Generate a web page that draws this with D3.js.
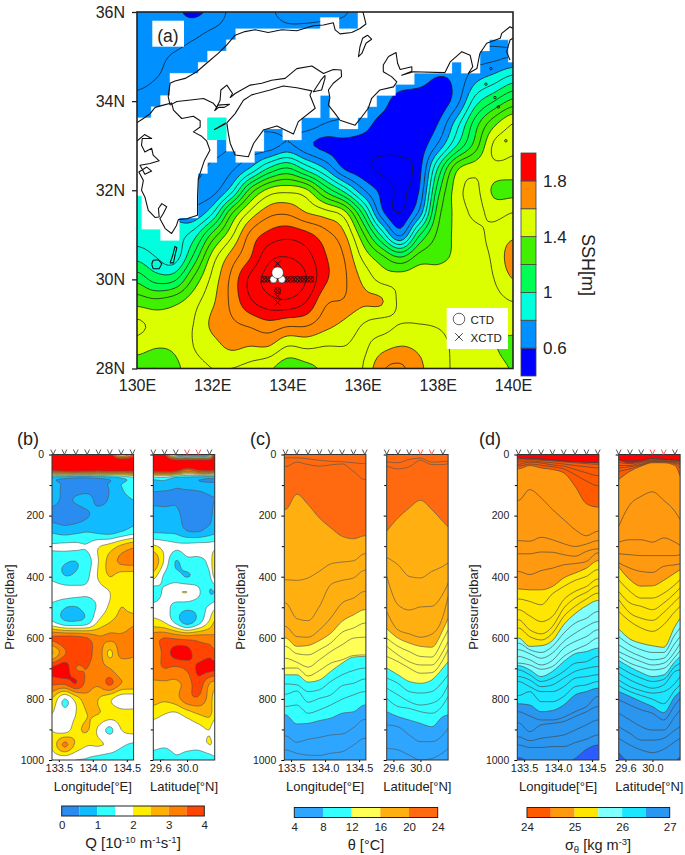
<!DOCTYPE html>
<html><head><meta charset="utf-8">
<script src="https://cdn.jsdelivr.net/npm/d3@7"></script>
<style>html,body{margin:0;background:#fff}svg{display:block}text{font-family:"Liberation Sans",Arial,sans-serif;fill:#222}</style>
</head><body><svg id="c" width="685" height="855"></svg>
<script>
// ---------- panel (a): sea surface height ----------
const sshLons = d3.range(21).map(i => 130 + i * 0.5);
const sshLats = d3.range(17).map(i => 36 - i * 0.5);
const sshValues = [
[.66,.64,.62,.58,.63,.72,.74,.72,.66,.66,.67,.69,.74,.75,.75,.75,.75,.75,.75,.75,.75],
[.67,.65,.65,.68,.72,.74,.75,.75,.74,.74,.75,.75,.75,.75,.75,.75,.75,.75,.75,.75,.75],
[.66,.68,.71,.74,.75,.75,.75,.75,.75,.75,.75,.75,.75,.75,.75,.75,.72,.66,.67,.68,.70],
[.68,.70,.72,.74,.75,.75,.75,.75,.75,.75,.75,.75,.75,.73,.70,.66,.59,.63,.77,.85,.95],
[.72,.73,.74,.75,.75,.75,.75,.75,.75,.75,.75,.74,.73,.66,.53,.52,.53,.66,.95,1.1,1.23],
[.75,.75,.75,.75,.75,.75,.75,.75,.75,.75,.70,.68,.65,.56,.53,.52,.60,.85,1.15,1.37,1.5],
[.75,.75,.75,.75,.75,.70,.66,.65,.72,.63,.57,.57,.55,.53,.53,.54,.72,1.0,1.25,1.52,1.52],
[.78,.78,.77,.75,.68,.68,.80,1.0,1.1,.95,.79,.59,.53,.48,.47,.56,1.0,1.37,1.46,1.47,1.46],
[.85,.82,.78,.70,.66,.85,1.23,1.43,1.47,1.42,1.18,.97,.72,.57,.49,.60,1.15,1.45,1.52,1.38,1.37],
[.85,.82,.78,.72,.88,1.27,1.52,1.66,1.68,1.6,1.54,1.44,1.08,.64,.50,.72,1.25,1.43,1.52,1.47,1.5],
[.85,.85,.85,.95,1.23,1.47,1.72,1.83,1.87,1.83,1.74,1.62,1.33,.98,.68,1.08,1.32,1.42,1.47,1.53,1.58],
[.97,.90,.85,1.12,1.44,1.64,1.79,1.97,2.0,1.94,1.81,1.70,1.48,1.33,1.20,1.34,1.37,1.42,1.46,1.52,1.66],
[1.17,1.06,1.08,1.32,1.53,1.72,1.92,2.04,2.1,2.0,1.82,1.72,1.58,1.47,1.46,1.47,1.46,1.46,1.46,1.5,1.6],
[1.36,1.33,1.37,1.46,1.58,1.72,1.88,1.96,1.98,1.9,1.72,1.69,1.62,1.61,1.48,1.48,1.47,1.46,1.46,1.47,1.5],
[1.52,1.47,1.46,1.5,1.62,1.68,1.72,1.77,1.73,1.72,1.64,1.58,1.5,1.47,1.5,1.5,1.49,1.46,1.46,1.44,1.46],
[1.45,1.41,1.42,1.5,1.56,1.62,1.6,1.6,1.5,1.52,1.5,1.5,1.48,1.56,1.6,1.58,1.55,1.47,1.46,1.41,1.35],
[1.33,1.3,1.37,1.46,1.5,1.5,1.47,1.42,1.34,1.37,1.42,1.46,1.5,1.68,1.72,1.62,1.55,1.48,1.47,1.45,1.39]];
const sshBreaks = [0.6,0.8,1.0,1.2,1.4,1.6,1.8];
const sshColors = ["#0000ff","#0090ff","#00ffdd","#00ff55","#40f000","#dcff00","#ff8c00","#ff0000"];
const sshLines = d3.range(5,22).map(d => d / 10);
const sshTickLabels = [0.6,1,1.4,1.8];
// 0.25-degree land mask, 41 x 33 cells; # land, c inland-sea cell
const landMask = [
"........................#################",
"....................##..#################",
"...........##############################",
"..........############################..#",
"........#############################...#",
".......###########################.##....",
"....##########################...........",
"....########################.............",
"...#################.#####...............",
"..##################.####................",
"########cc########....##.................",
"########cc####..##.......................",
"#########.####...........................",
"#########..##............................",
"########.................................",
"#######..................................",
"#######..................................",
".######..................................",
".######..................................",
".####....................................",
"...##...................................."];
const coastHonshuN = [[130.88,33.91],[130.83,34.10],[130.88,34.40],[131.01,34.45],[131.28,34.51],[131.59,34.66],[131.85,34.85],[132.16,35.07],[132.39,35.26],[132.61,35.48],[132.87,35.56],[133.14,35.60],[133.49,35.54],[133.85,35.60],[134.25,35.58],[134.69,35.69],[134.96,35.71],[135.22,35.76],[135.27,35.60],[135.40,35.51],[135.71,35.54],[135.93,35.63],[136.09,35.73],[136.02,35.97],[135.98,36.03]];
const coastHonshuS = [[130.88,33.91],[131.06,33.99],[131.37,34.02],[131.77,34.06],[132.03,33.95],[132.12,33.86],[132.21,34.02],[132.23,34.25],[132.39,34.36],[132.54,34.17],[132.48,34.08],[132.61,34.17],[133.01,34.36],[133.32,34.40],[133.58,34.47],[133.94,34.51],[134.25,34.73],[134.65,34.79],[134.96,34.62],[135.22,34.71],[135.43,34.70],[135.44,34.55],[135.22,34.40],[135.09,34.25],[135.13,34.08],[135.09,33.91],[135.27,33.72],[135.40,33.57],[135.80,33.46],[135.98,33.65],[136.15,33.84],[136.24,34.06],[136.46,34.25],[136.82,34.32],[136.91,34.43],[136.77,34.55],[136.55,34.66],[136.55,34.81],[136.69,35.00],[136.89,35.09],[136.93,34.85],[137.00,34.71],[137.31,34.77],[137.31,34.67],[137.04,34.58],[137.35,34.66],[138.19,34.64],[138.33,34.88],[138.64,35.11],[138.86,35.03],[138.93,34.77],[138.81,34.62],[139.04,34.73],[139.12,35.07],[139.30,35.30],[139.66,35.41],[139.70,35.52],[139.92,35.67],[140,35.63]];
const coastBoso = [[139.92,34.92],[139.83,35.11],[139.92,35.37],[140,35.41]];
const coastShikoku = [[132.39,33.51],[132.43,33.27],[132.48,33.05],[132.61,32.79],[132.96,32.75],[133.10,33.05],[133.36,33.35],[133.72,33.44],[134.16,33.26],[134.29,33.54],[134.74,33.84],[134.60,34.13],[134.65,34.23],[134.25,34.30],[133.89,34.34],[133.54,34.25],[133.05,34.14],[132.83,34.02],[132.61,33.72],[132.39,33.51]];
const coastKyushu = [[129.99,33.51],[130.17,33.61],[130.35,33.72],[130.48,33.86],[130.70,33.91],[130.92,33.96],[130.97,33.80],[131.19,33.61],[131.50,33.66],[131.68,33.56],[131.68,33.42],[131.50,33.31],[131.72,33.21],[131.85,33.11],[131.94,32.90],[131.79,32.66],[131.63,32.26],[131.61,31.85],[131.61,31.44],[131.32,31.36],[131.10,31.34],[131.05,31.21],[130.92,31.03],[130.75,31.14],[130.61,31.36],[130.70,31.48],[130.79,31.63],[130.66,31.70],[130.57,31.59],[130.59,31.40],[130.48,31.39],[130.30,31.55],[130.21,31.85],[130.12,32.00],[130.17,32.22],[130.05,32.41],[130.26,32.52],[130.39,32.43],[130.21,32.36],[130.08,32.56],[130.35,32.60],[130.59,32.66],[130.43,32.79],[130.39,32.94],[130.21,32.86],[130.12,33.01],[130.14,33.16],[130.39,33.16],[130.20,33.25],[129.99,33.10]];
const islandList = [
[[130.88,30.37],[130.95,30.54],[131.01,30.74],[131.06,30.71],[131.01,30.54],[130.97,30.37],[130.88,30.37]],
[[130.39,30.34],[130.43,30.43],[130.57,30.44],[130.66,30.35],[130.59,30.24],[130.43,30.24],[130.39,30.34]],
[[132.06,33.78],[132.15,33.91],[132.46,33.93],[132.32,33.86],[132.17,33.86],[132.06,33.78]],
[[136.13,35.48],[136.24,35.39],[136.09,35.30],[135.98,35.07],[135.89,35.00],[135.93,35.22],[136.00,35.41],[136.13,35.48]],
[[135.00,34.58],[134.89,34.47],[134.69,34.21],[134.91,34.25],[135.00,34.51],[135.00,34.58]],
[[132.05,33.36],[132.36,33.51],[132.33,33.48],[132.05,33.36]]];
const tinyIslands = [[139.41,34.73],[139.52,34.08],[139.28,34.38],[139.61,33.87],[139.81,33.11]];
const rowLons = [133.38,133.557,133.734,133.911,134.088,134.265,134.442,134.62];
const rowLat = 30;
const colLon = 133.74;
const colLats = [30.35,30.15,29.75,29.62,29.48];
const whiteCTD = [[133.63,30,3.6],[133.85,30,3.6],[133.74,30.15,5.8]];
const openCTD = [[133.38,30],[133.557,30],[133.911,30],[134.088,30],[134.265,30],[134.442,30],[134.62,30],[133.74,29.75]];

// ---------- section coordinates ----------
const secLon = [133.417,133.583,133.75,133.917,134.083,134.25,134.417,134.583];
const secLat = [29.5,29.667,29.833,30,30.167,30.333,30.41];
const markLat = [29.5,29.667,29.833,30,30.167,30.333];
const markLatRed = [false,false,false,true,true,false];
const lonTicks = [133.5,134,134.5];
const latTicks = [29.6,30];
const presMajor = [0,200,400,600,800,1000];
const presMinor = [100,300,500,700,900];

// ---------- panel (b): Q ----------
const qDepth = [0,25,50,75,100,150,200,250,300,350,400,450,500,550,600,650,700,750,800,850,900,950,1000];
const qLon = [
[4.5,4.5,4.5,4.5,4.5,4.4,2.5,3.5],
[5,5,5,5,5,5,5,5],
[4.2,4.5,4.6,4.5,4.4,4.5,4.4,4.4],
[.8,.75,.6,.6,.7,.85,1.1,1.4],
[.8,.4,.3,.3,.4,.55,1.0,1.3],
[.7,.4,.55,.65,.4,.55,.85,1.0],
[.3,.2,.25,.45,.7,.75,.85,.95],
[.9,.75,.85,.95,.85,.75,.95,1.2],
[1.55,1.6,1.6,1.55,1.95,2.2,2.6,2.9],
[1.2,1.05,1.0,1.25,2.0,2.7,3.1,3.2],
[1.35,1.03,1.1,1.4,2.05,2.5,2.25,2.2],
[1.9,1.8,1.7,1.6,1.75,2.0,2.4,2.45],
[1.35,1.03,.98,1.2,1.6,2.1,2.5,2.3],
[1.6,1.15,1.1,1.3,2.1,2.5,2.7,2.9],
[3.6,3.7,3.7,3.5,3.1,3.1,3.1,3.2],
[2.4,3.4,3.9,3.6,3.3,2.4,3.2,3.1],
[4.1,4.3,3.5,3.5,3.2,3,2.6,2.7],
[3.6,3.6,4,3.3,3.1,3.6,3,2.9],
[2.5,1.5,2.2,2.8,2.5,2.1,1.7,1.7],
[2.0,1.7,2.0,2.5,2.5,2.3,2.2,2.2],
[2.0,1.7,2.3,2.55,1.9,1.4,2.0,2.2],
[2.1,3.1,2.4,2.05,2.05,1.9,1.6,1.4],
[1.7,1.6,1.5,1.45,1.3,1.15,1.1,1.0]];
const qLat = [
[4.5,4.2,.8,.6,.5,.8,4.5],
[5,5,5,5,5,5,5],
[4.5,4.6,4.5,3.5,4.1,4.3,4.1],
[1.4,1.5,1,.9,.8,.7,.7],
[.7,.7,.55,.6,.6,.6,.6],
[.4,.35,.45,.3,.35,.45,.5],
[.8,.8,.65,.3,.25,.35,.7],
[.9,.9,.85,.5,.45,.7,.85],
[2.1,1.8,1.6,1.65,1.7,1.7,1.8],
[3.0,1.9,.98,1.35,1.35,1.65,2.5],
[2.2,1.4,1.2,.98,1.2,1.4,2.2],
[1.2,1.6,1.9,2.0,1.6,1.0,1.0],
[1.7,1.7,1.3,1.15,1.2,1.6,1.9],
[2.2,2.0,1.4,.8,1.3,2.1,2.6],
[3.3,3.5,3.4,3.3,3.3,3.2,3.1],
[3.0,3.7,4.2,4.2,3.7,3.8,3.6],
[3.3,3.5,3.4,3.6,4.1,4.2,4.1],
[2.9,2.9,2.9,3.2,3.8,3.0,2.8],
[2.7,2.6,2.8,3.3,3.4,2.8,2.2],
[2.2,2.0,1.9,2.2,2.5,2.6,2.2],
[1.7,1.6,1.55,1.6,1.8,2.0,1.5],
[1.7,1.6,1.7,1.7,1.75,2.0,1.9],
[1.1,1.0,1.4,1.2,1.0,1.2,1.4]];
const qBreaks = [.5,1,1.5,2,2.5,3,3.5,4];
const qColors = ["#2a8cf0","#10bcff","#33ffff","#ffffff","#ffee00","#ffb000","#ff8000","#ff4500","#ff0000"];
const qBarTicks = [0,1,2,3,4];

// ---------- panel (c): isotherm depths (dbar) at each station ----------
const thetaLevels = [22,21,20,19,18,17,16,15,14,13,12,11,10,9,8,7,6];
const thetaLon = [
[11,11,14,19,22,24,27,30],[40,25,33,38,34,31,55,82],[180,130,164,208,240,268,276,266],[410,412,404,382,358,352,348,325],
[486,537,544,497,426,412,404,379],[563,596,598,574,535,486,470,448],[601,628,625,609,585,546,525,508],[628,652,656,639,617,582,568,552],
[667,680,696,672,645,623,601,598],[699,699,725,707,683,672,658,656],[721,721,745,738,710,683,663,661],[751,754,776,770,743,721,707,699],
[785,774,811,798,787,757,749,735],[825,820,847,836,820,801,787,776],[852,882,880,871,863,847,842,820],[921,942,932,926,918,915,894,867],[967,978,984,985,978,973,951,929]];
const thetaLat = [
[24,27,16,12,25,23,22],[38,47,40,19,33,33,30],[251,208,175,150,180,219,237],[337,361,399,404,383,366,355],
[399,492,509,499,497,456,421],[514,574,587,598,588,530,464],[570,601,617,628,631,574,536],[601,628,645,661,663,607,574],
[628,656,678,689,689,645,612],[661,678,699,716,714,672,639],[699,721,743,749,738,699,678],[732,749,776,781,776,743,721],
[765,787,809,820,814,787,754],[798,825,831,842,847,820,792],[842,858,869,880,891,858,852],[885,891,918,940,940,918,896],[962,967,984,1000,995,976,962]];
const thetaFills = [[20,"#ff6a10"],[16,"#ffb010"],[12,"#ffff55"],[8,"#33ffff"]];
const thetaBottom = "#2ea6ff";
const thetaBarBreaks = [4,8,12,16,20,24];
const thetaBarColors = ["#2ea6ff","#33ffff","#ffff55","#ffb010","#ff6a10"];

// ---------- panel (d): isopycnal depths (dbar) at each station ----------
const sigmaLevels = [23.9,24,24.1,24.2,24.3,24.4,24.5,24.6,24.7,24.8,24.9,25,25.1,25.2,25.3,25.4,25.5,25.6,25.7,25.8,25.9,26,26.1,26.2,26.3,26.4,26.5,26.6,26.7,26.8,26.9,27];
const sigmaLon = [
[12,12,14,17,21,23,25,26],[14,14,16,19,22,24,26,27],[19,16,19,21,24,27,30,32],[25,21,24,27,31,36,40,44],[32,25,28,34,38,49,60,69],[38,31,35,40,47,66,87,102],
[47,36,44,49,60,104,161,172],[150,115,142,180,213,246,266,251],[282,284,271,279,292,301,293,282],[325,325,319,320,328,333,317,309],[383,393,380,372,361,357,350,322],
[440,443,443,432,404,388,372,348],[473,481,492,456,432,412,399,377],[508,528,547,530,475,448,432,408],[541,574,587,563,503,470,451,430],[568,596,607,585,530,497,473,454],
[601,628,626,609,557,521,495,478],[618,639,648,628,585,552,536,514],[639,652,667,650,612,585,563,547],[661,672,689,674,634,612,596,574],[683,689,703,694,661,639,623,601],
[691,705,727,710,678,652,645,634],[705,721,743,732,710,683,678,661],[727,738,760,754,732,710,700,694],[743,760,776,776,760,732,727,721],[789,776,809,809,792,760,754,743],
[816,820,842,838,820,787,776,765],[842,856,869,869,860,842,825,792],[878,907,885,880,874,858,842,825],[924,937,929,924,918,902,885,869],[951,959,959,956,956,943,932,918],[992,1007,1011,1011,1011,995,965,951]];
const sigmaLat = [
[15,20,18,13,15,17,20],[19,27,22,14,16,19,22],[26,30,24,17,17,21,25],[36,36,27,20,20,24,30],[44,40,32,22,22,26,35],[55,47,35,24,24,30,44],
[82,55,38,27,27,36,71],[235,164,137,122,150,186,213],[287,279,279,287,273,287,297],[325,328,331,331,331,331,328],[355,372,383,386,366,361,358],
[368,410,431,430,412,388,377],[410,448,470,470,454,426,410],[448,486,497,508,486,454,437],[475,519,536,543,517,481,465],[514,546,568,579,557,514,497],
[571,604,618,626,631,563,536],[596,623,639,648,648,590,568],[623,645,661,672,667,618,596],[645,663,678,689,683,645,618],[661,683,696,705,700,663,642],
[674,696,714,727,721,678,661],[694,716,732,743,736,694,683],[716,738,754,765,754,710,705],[738,760,773,781,776,749,727],[757,776,789,801,816,771,754],
[776,792,809,825,845,792,776],[803,820,836,847,869,820,798],[847,869,891,902,902,858,836],[891,913,935,935,929,902,891],[929,951,967,976,965,940,929],[976,1009,1016,1016,1016,1005,989]];
const sigmaFills = [[24,"#ff0000"],[24.5,"#ff5a00"],[25,"#ff9a10"],[25.5,"#ffe600"],[26,"#80ffff"],[26.5,"#1ae6ff"],[27,"#2a96f0"]];
const sigmaBottom = "#2a5cff";
const sigmaBarBreaks = [24,24.5,25,25.5,26,26.5,27];
const sigmaBarColors = ["#ff5a00","#ff9a10","#ffe600","#80ffff","#1ae6ff","#2a96f0"];

// ---------- drawing ----------
const svg = d3.select("#c");
let clipId = 0;
function clip(x0,y0,x1,y1){
  const id = "clip"+(clipId++);
  svg.append("clipPath").attr("id",id).append("rect").attr("x",x0).attr("y",y0).attr("width",x1-x0).attr("height",y1-y0);
  return id;
}
function cr(a,b,c,d,t){return 0.5*((2*b)+(-a+c)*t+(2*a-5*b+4*c-d)*t*t+(-a+3*b-3*c+d)*t*t*t);}
function upsample(grid,k){
  const R=grid.length,C=grid[0].length;
  const g=(r,c)=>grid[Math.max(0,Math.min(R-1,r))][Math.max(0,Math.min(C-1,c))];
  const H=(R-1)*k+1,W=(C-1)*k+1,out=new Float64Array(W*H);
  for(let j=0;j<H;j++){const r=Math.floor(j/k),tr=j/k-r;
    for(let i=0;i<W;i++){const c=Math.floor(i/k),tc=i/k-c;
      const col=[-1,0,1,2].map(dr=>cr(g(r+dr,c-1),g(r+dr,c),g(r+dr,c+1),g(r+dr,c+2),tc));
      out[j*W+i]=cr(col[0],col[1],col[2],col[3],tr);
    }}
  return {W,H,out};
}
function field(g,grid,xs,ys,fills,baseColor,lines,lineStyle,box){
  const k=6,{W,H,out}=upsample(grid,k);
  const fx=d3.scaleLinear().domain(d3.range(xs.length)).range(xs);
  const fy=d3.scaleLinear().domain(d3.range(ys.length)).range(ys);
  const tr=d3.geoTransform({point(x,y){this.stream.point(fx((x-0.5)/k),fy((y-0.5)/k));}});
  const path=d3.geoPath(tr);
  g.append("rect").attr("x",box[0]).attr("y",box[1]).attr("width",box[2]-box[0]).attr("height",box[3]-box[1]).attr("fill",baseColor);
  const con=d3.contours().size([W,H]).smooth(true);
  g.selectAll(null).data(fills).join("path").attr("d",d=>path(con.contour(out,d[0]))).attr("fill",d=>d[1]);
  g.selectAll(null).data(lines).join("path").attr("d",d=>path(con.contour(out,d))).attr("fill","none")
    .attr("stroke",lineStyle[0]).attr("stroke-width",lineStyle[1]);
}

// panel (a)
const aL=137,aR=513,aT=12,aB=368.5;
const lonA=d3.scaleLinear([130,140],[aL,aR]), latA=d3.scaleLinear([28,36],[aB,aT]);
const gA=svg.append("g").attr("clip-path",`url(#${clip(aL,aT,aR,aB)})`);
field(gA,sshValues,sshLons.map(lonA),sshLats.map(latA),sshBreaks.map((b,i)=>[b,sshColors[i+1]]),sshColors[0],sshLines,["#1a1a1a",0.75],[aL,aT,aR,aB]);
function maskPath(ch){
  const p=d3.path(), w=lonA(130.25)-lonA(130), h=latA(35.75)-latA(36);
  landMask.forEach((row,j)=>row.split("").forEach((c,i)=>{
    if(c===ch)p.rect(lonA(130+.25*(i-.5)),latA(36-.25*(j-.5)),w,h);
  }));
  return p.toString();
}
gA.append("path").attr("d",maskPath("#")).attr("fill","#fff").attr("stroke","#fff").attr("stroke-width",.25);
gA.append("path").attr("d",maskPath("c")).attr("fill","#00ffdd");
const geoLine=d3.line().x(d=>lonA(d[0])).y(d=>latA(d[1]));
[coastHonshuN,coastHonshuS,coastBoso,coastShikoku,coastKyushu,...islandList].forEach(c=>{
  gA.append("path").attr("d",geoLine(c)).attr("fill","none").attr("stroke","#111").attr("stroke-width",1.1).attr("stroke-linejoin","round");
});
gA.selectAll(null).data(tinyIslands).join("circle").attr("cx",d=>lonA(d[0])).attr("cy",d=>latA(d[1])).attr("r",1.2).attr("fill","none").attr("stroke","#111").attr("stroke-width",.9);
// station marks
const crossPath=(x,y,s)=>`M${x-s},${y-s}L${x+s},${y+s}M${x-s},${y+s}L${x+s},${y-s}`;
const markCrosses=[...rowLons.map(l=>[l,rowLat]),...colLats.map(l=>[colLon,l])];
gA.selectAll(null).data(openCTD).join("circle").attr("cx",d=>lonA(d[0])).attr("cy",d=>latA(d[1])).attr("r",2.9).attr("fill","none").attr("stroke","#111").attr("stroke-width",.9);
gA.selectAll(null).data(markCrosses).join("path").attr("d",d=>crossPath(lonA(d[0]),latA(d[1]),3.1)).attr("stroke","#111").attr("stroke-width",1).attr("fill","none");
gA.selectAll(null).data(whiteCTD).join("circle").attr("cx",d=>lonA(d[0])).attr("cy",d=>latA(d[1])).attr("r",d=>d[2]).attr("fill","#fff").attr("stroke","#111").attr("stroke-width",.5);
// label and legend boxes
svg.append("rect").attr("x",152.3).attr("y",20.7).attr("width",31.7).attr("height",26).attr("fill","#fff");
svg.append("text").attr("x",168).attr("y",41.5).attr("text-anchor","middle").attr("font-size",17.5).text("(a)");
svg.append("rect").attr("x",446.7).attr("y",308).attr("width",61.3).attr("height",41).attr("fill","#fff");
svg.append("circle").attr("cx",459).attr("cy",319).attr("r",5.8).attr("fill","#fff").attr("stroke","#555").attr("stroke-width",.9);
svg.append("path").attr("d",crossPath(459,337,3.8)).attr("stroke","#333").attr("stroke-width",.9).attr("fill","none");
svg.append("text").attr("x",470.5).attr("y",323.5).attr("font-size",11.5).text("CTD");
svg.append("text").attr("x",470.5).attr("y",342).attr("font-size",11.5).text("XCTD");
// frame + axes
svg.append("rect").attr("x",aL).attr("y",aT).attr("width",aR-aL).attr("height",aB-aT).attr("fill","none").attr("stroke","#222").attr("stroke-width",1.6);
const axA=svg.append("g").attr("transform",`translate(${aL},0)`).call(d3.axisLeft(latA).tickValues([28,30,32,34,36]).tickSizeInner(5).tickSizeOuter(0).tickPadding(7).tickFormat(d=>d+"N"));
axA.select(".domain").remove();axA.selectAll("text").attr("font-size",16).attr("font-family",'"Liberation Sans"');axA.selectAll("line").attr("stroke","#222").attr("stroke-width",1.3);
const axB=svg.append("g").attr("transform",`translate(0,${aB})`).call(d3.axisBottom(lonA).tickValues([130,132,134,136,138,140]).tickSizeInner(0).tickSizeOuter(0).tickPadding(11).tickFormat(d=>d+"E"));
axB.select(".domain").remove();axB.selectAll("text").attr("font-size",16).attr("font-family",'"Liberation Sans"');
// SSH colour bar
const cbY=d3.scaleLinear([0.4,2],[376,153]);
const sshEdges=[0.4,...sshBreaks,2];
svg.selectAll(null).data(sshColors).join("rect").attr("x",521).attr("width",15)
  .attr("y",(d,i)=>cbY(sshEdges[i+1])).attr("height",(d,i)=>cbY(sshEdges[i])-cbY(sshEdges[i+1])).attr("fill",d=>d).attr("stroke","#444").attr("stroke-width",.8);
const axC=svg.append("g").attr("transform","translate(536,0)").call(d3.axisRight(cbY).tickValues(sshTickLabels).tickSize(0).tickPadding(7).tickFormat(d=>d));
axC.select(".domain").remove();axC.selectAll("text").attr("font-size",17).attr("font-family",'"Liberation Sans"');
svg.append("text").attr("transform","translate(582,265) rotate(90)").attr("text-anchor","middle").attr("font-size",18).text("SSH[m]");

// sections
function frameAxes(x0,x1,scaleX,ticks,fmt,marks,reds,withLabels,pLabelX,xTitle,yS,T,B){
  const tickSet=d3.axisBottom(scaleX).tickValues(ticks).tickSize(2).tickPadding(2).tickFormat(fmt);
  const a=svg.append("g").attr("transform",`translate(0,${B})`).call(tickSet);
  a.select(".domain").remove();a.selectAll("text").attr("font-size",11).attr("font-family",'"Liberation Sans"');
  const mj=d3.axisLeft(yS).tickValues(presMajor).tickSize(3).tickPadding(5).tickFormat(withLabels?(d=>d):"");
  const l=svg.append("g").attr("transform",`translate(${x0},0)`).call(mj);
  l.select(".domain").remove();l.selectAll("text").attr("font-size",10.5).attr("font-family",'"Liberation Sans"');
  const mn=d3.axisLeft(yS).tickValues(presMinor).tickSize(2.5).tickFormat("");
  const l2=svg.append("g").attr("transform",`translate(${x0},0)`).call(mn);l2.select(".domain").remove();
  svg.append("rect").attr("x",x0).attr("y",T).attr("width",x1-x0).attr("height",B-T).attr("fill","none").attr("stroke","#333").attr("stroke-width",1);
  svg.selectAll(null).data(marks).join("path").attr("d",d=>`M${scaleX(d)-2.4},${T-5}L${scaleX(d)},${T}L${scaleX(d)+2.4},${T-5}`)
    .attr("fill","none").attr("stroke",(d,i)=>reds[i]?"#ff4040":"#444").attr("stroke-width",.9);
  svg.append("text").attr("x",(x0+x1)/2).attr("y",791).attr("text-anchor","middle").attr("font-size",13).text(xTitle);
  if(withLabels) svg.append("text").attr("transform",`translate(${pLabelX},607) rotate(-90)`).attr("text-anchor","middle").attr("font-size",13).text("Pressure[dbar]");
}
const T=454.5,B=760;
const pS=d3.scaleLinear([0,1000],[T,B]);
function mk(x0,dom0,dom1,pxPerDeg){return d3.scaleLinear([dom0,dom1],[x0,x0+(dom1-dom0)*pxPerDeg]);}

// (b)
const bLx=mk(52,133.4,134.6,68), bRx=mk(153.3,29.5,30.41,67.5);
const bLine=["#555",.6];
const qFills=qBreaks.map((b,i)=>[b,qColors[i+1]]);
const edgeX=(arr,s)=>{const o=arr.map(s);o[0]=s.range()[0]-.5;o[o.length-1]=s.range()[1]+.5;return o;};
field(svg.append("g").attr("clip-path",`url(#${clip(bLx.range()[0],T,bLx.range()[1],B)})`),qLon,edgeX(secLon,bLx),qDepth.map(pS),qFills,qColors[0],qBreaks,bLine,[bLx.range()[0],T,bLx.range()[1],B]);
field(svg.append("g").attr("clip-path",`url(#${clip(bRx.range()[0],T,bRx.range()[1],B)})`),qLat,edgeX(secLat,bRx),qDepth.map(pS),qFills,qColors[0],qBreaks,bLine,[bRx.range()[0],T,bRx.range()[1],B]);
frameAxes(bLx.range()[0],bLx.range()[1],bLx,lonTicks,d3.format(".1f"),secLon,secLon.map(()=>false),true,14,"Longitude[°E]",pS,T,B);
frameAxes(bRx.range()[0],bRx.range()[1],bRx,latTicks,d3.format(".1f"),markLat,markLatRed,false,0,"Latitude[°N]",pS,T,B);

// layered sections
function layers(scaleX,xsData,levels,depths,fills,bottom,lineCol){
  const xr=scaleX.range();
  const id=clip(xr[0],T,xr[1],B);
  const g=svg.append("g").attr("clip-path",`url(#${id})`);
  g.append("rect").attr("x",xr[0]).attr("y",T).attr("width",xr[1]-xr[0]).attr("height",B-T).attr("fill",bottom);
  const xs=[...xsData.map(scaleX)];
  if(xs[0]>xr[0])xs.unshift(xr[0]);
  if(xs[xs.length-1]<xr[1])xs.push(xr[1]);
  const ext=v=>{const o=v.slice();if(xs.length>v.length&&scaleX(xsData[0])>xr[0])o.unshift(v[0]);if(xs.length>o.length)o.push(v[v.length-1]);return o;};
  const curve=d3.curveMonotoneX;
  const lvl=new Map(levels.map((l,i)=>[l,ext(depths[i])]));
  // paint deep to shallow so each colour reaches from its lower boundary up to the surface
  fills.slice().reverse().forEach(f=>{
    const v=lvl.get(f[0]);
    const ar=d3.area().x((d,i)=>xs[i]).y0(pS(0)).y1((d)=>pS(d)).curve(curve);
    g.append("path").attr("d",ar(v)).attr("fill",f[1]);
  });
  const ln=d3.line().x((d,i)=>xs[i]).y(d=>pS(d)).curve(curve);
  g.selectAll(null).data(levels).join("path").attr("d",l=>ln(lvl.get(l))).attr("fill","none").attr("stroke",lineCol).attr("stroke-width",.65);
}
// (c)
const cLx=mk(284.3,133.4,134.6,68), cRx=mk(386.7,29.5,30.41,67.5);
layers(cLx,secLon,thetaLevels,thetaLon,thetaFills,thetaBottom,"#555");
layers(cRx,secLat,thetaLevels,thetaLat,thetaFills,thetaBottom,"#555");
frameAxes(cLx.range()[0],cLx.range()[1],cLx,lonTicks,d3.format(".1f"),secLon,secLon.map(()=>false),true,245,"Longitude[°E]",pS,T,B);
frameAxes(cRx.range()[0],cRx.range()[1],cRx,latTicks,d3.format(".1f"),markLat,markLatRed,false,0,"Latitude[°N]",pS,T,B);
// (d)
const dLx=mk(517.3,133.4,134.6,68), dRx=mk(618.7,29.5,30.41,67.5);
layers(dLx,secLon,sigmaLevels,sigmaLon,sigmaFills,sigmaBottom,"#444");
layers(dRx,secLat,sigmaLevels,sigmaLat,sigmaFills,sigmaBottom,"#444");
frameAxes(dLx.range()[0],dLx.range()[1],dLx,lonTicks,d3.format(".1f"),secLon,secLon.map(()=>false),true,478,"Longitude[°E]",pS,T,B);
frameAxes(dRx.range()[0],dRx.range()[1],dRx,latTicks,d3.format(".1f"),markLat,markLatRed,false,0,"Latitude[°N]",pS,T,B);

// panel letters
[["(b)",17],["(c)",250],["(d)",479]].forEach(p=>svg.append("text").attr("x",p[1]).attr("y",445).attr("font-size",18).text(p[0]));

// horizontal colour bars
function hbar(x0,x1,y0,edges,colors,ticks,fmt){
  const s=d3.scaleLinear([edges[0],edges[edges.length-1]],[x0,x1]);
  svg.selectAll(null).data(colors).join("rect").attr("x",(d,i)=>s(edges[i])).attr("y",y0).attr("height",10)
    .attr("width",(d,i)=>s(edges[i+1])-s(edges[i])).attr("fill",d=>d);
  svg.append("rect").attr("x",x0).attr("y",y0).attr("width",x1-x0).attr("height",10).attr("fill","none").attr("stroke","#222").attr("stroke-width",1);
  const a=svg.append("g").attr("transform",`translate(0,${y0+10})`).call(d3.axisBottom(s).tickValues(ticks).tickSize(0).tickPadding(5).tickFormat(fmt));
  a.select(".domain").remove();a.selectAll("text").attr("font-size",11.5).attr("font-family",'"Liberation Sans"');
  return s;
}
hbar(61.7,204.3,806,[0,...qBreaks],qColors.slice(0,8),qBarTicks,d=>d);
hbar(294.3,437.7,807.5,thetaBarBreaks,thetaBarColors,thetaBarBreaks,d=>d);
hbar(527,669.7,807.5,sigmaBarBreaks,sigmaBarColors,[24,25,26,27],d=>d);

const tq=svg.append("text").attr("x",133).attr("y",848).attr("text-anchor","middle").attr("font-size",15);
tq.append("tspan").text("Q [10");tq.append("tspan").attr("dy",-5).attr("font-size",9.5).text("-10");
tq.append("tspan").attr("dy",5).text(" m");tq.append("tspan").attr("dy",-5).attr("font-size",9.5).text("-1");
tq.append("tspan").attr("dy",5).text("s");tq.append("tspan").attr("dy",-5).attr("font-size",9.5).text("-1");tq.append("tspan").attr("dy",5).text("]");
svg.append("text").attr("x",366).attr("y",850).attr("text-anchor","middle").attr("font-size",14.5).text("θ [°C]");
const ts=svg.append("text").attr("x",598).attr("y",850).attr("text-anchor","middle").attr("font-size",14.5);
ts.append("tspan").text("σ");ts.append("tspan").attr("dy",3).attr("font-size",9.5).text("θ");
ts.append("tspan").attr("dy",-3).text(" [kg m");ts.append("tspan").attr("dy",-5).attr("font-size",9.5).text("-3");ts.append("tspan").attr("dy",5).text("]");
</script></body></html>
